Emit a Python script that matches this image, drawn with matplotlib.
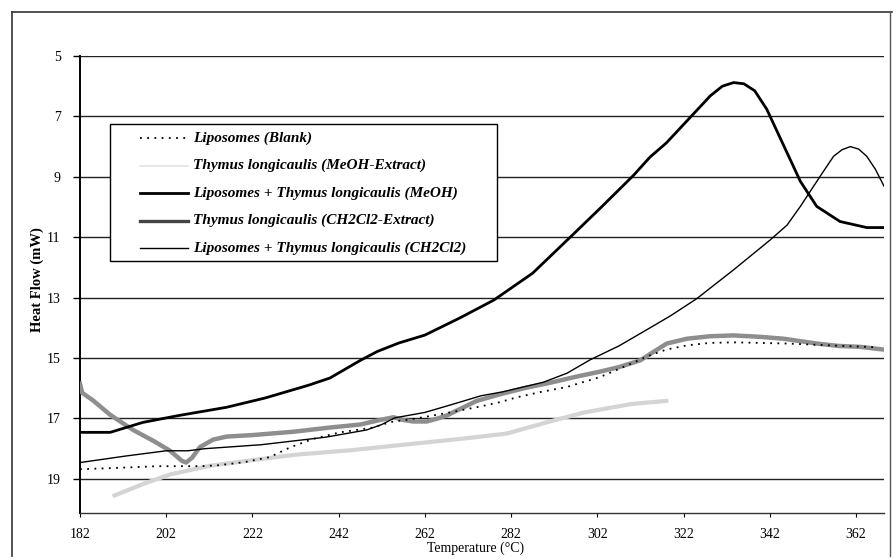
import matplotlib
matplotlib.use("Agg")
import matplotlib.pyplot as plt
from matplotlib.lines import Line2D
from matplotlib.patches import Rectangle

# ---------------- data ----------------
blank_x = [182, 190, 200, 210, 214, 220, 226, 230.7, 236, 242.3, 250, 254, 260, 267.8, 275,
           279.4, 283.3, 289, 294.9, 302.6, 308, 314.2, 318, 322.8, 328, 333.6, 340, 346, 356,
           364.5, 366]
blank_y = [18.68, 18.64, 18.58, 18.58, 18.55, 18.45, 18.28, 17.96, 17.68, 17.46, 17.3, 17.12,
           17.0, 16.8, 16.6, 16.46, 16.3, 16.12, 15.96, 15.63, 15.3, 14.91, 14.72, 14.58, 14.5,
           14.48, 14.5, 14.52, 14.58, 14.63, 14.64]

meoh_ext_x = [190, 197, 203, 212, 222, 232, 245, 255, 270, 281, 286, 291, 299, 310, 318]
meoh_ext_y = [19.55, 19.15, 18.85, 18.57, 18.38, 18.2, 18.05, 17.9, 17.68, 17.5, 17.3, 17.1,
              16.8, 16.52, 16.42]

lipo_meoh_x = [182, 189, 196.6, 205, 216, 225, 235, 240, 247, 251, 256, 262, 270, 278, 287,
               295.7, 302.6, 310.4, 314.2, 318, 323.5, 328.2, 331, 333.6, 336, 338.5, 341.3,
               346, 349.1, 352.9, 358.3, 364.5, 368.5]
lipo_meoh_y = [17.46, 17.46, 17.13, 16.9, 16.63, 16.32, 15.9, 15.66, 15.08, 14.78, 14.5, 14.24,
               13.68, 13.08, 12.19, 11.0, 10.05, 8.95, 8.35, 7.88, 7.04, 6.32, 6.0, 5.88, 5.92,
               6.15, 6.76, 8.2, 9.15, 9.98, 10.48, 10.68, 10.68]

ch2_ext_x = [182, 182.5, 185, 189, 194.3, 199, 202.9, 205.6, 206.6, 208, 209.8, 212.9, 216,
             222, 231.5, 240, 247, 251.6, 254.7, 257, 259.3, 262.4, 265, 267.1, 274, 279.4,
             285, 291, 297, 302.6, 307, 311.9, 315, 318.1, 322.8, 328, 333.6, 340, 345.2,
             352.9, 358, 363, 368.5]
ch2_ext_y = [15.85, 16.15, 16.4, 16.88, 17.38, 17.74, 18.07, 18.4, 18.46, 18.3, 17.95, 17.7,
             17.6, 17.55, 17.44, 17.3, 17.2, 17.05, 16.96, 17.05, 17.1, 17.1, 17.0, 16.9, 16.42,
             16.2, 16.0, 15.82, 15.62, 15.45, 15.3, 15.08, 14.8, 14.52, 14.36, 14.28, 14.25,
             14.3, 14.36, 14.52, 14.6, 14.63, 14.72]

lipo_ch2_x = [182, 192.8, 202, 207, 211, 224, 239, 248.5, 252, 255, 262, 268, 275, 280, 289.5,
              295, 300.3, 307, 313.5, 319, 325.1, 333.6, 342.1, 346, 349.1, 353.7, 356.8, 358.8,
              360.7, 362.6, 364.5, 366.5, 368.5]
lipo_ch2_y = [18.46, 18.24, 18.07, 18.07, 18.0, 17.87, 17.62, 17.38, 17.2, 16.98, 16.8, 16.55,
              16.25, 16.12, 15.8, 15.5, 15.06, 14.6, 14.06, 13.6, 13.03, 12.08, 11.09, 10.6,
              9.98, 8.98, 8.32, 8.1, 8.0, 8.08, 8.32, 8.75, 9.31]

x_ticks = [182, 202, 222, 242, 262, 282, 302, 322, 342, 362]
y_ticks = [5, 7, 9, 11, 13, 15, 17, 19]

labels = ["Liposomes (Blank)",
          "Thymus longicaulis (MeOH-Extract)",
          "Liposomes + Thymus longicaulis (MeOH)",
          "Thymus longicaulis (CH2Cl2-Extract)",
          "Liposomes + Thymus longicaulis (CH2Cl2)"]

# ---------------- figure ----------------
W, H = 894, 559
plt.rcParams['font.family'] = ['Liberation Serif', 'DejaVu Serif']
fig = plt.figure(figsize=(W/100, H/100), dpi=100)
ax = fig.add_axes([80/W, 1-513/H, (884-80)/W, (513-56)/H])

ax.set_xlim(182, 368.5)
ax.set_ylim(20.13, 5)

for y in y_ticks:
    ax.axhline(y, color='#222222', lw=1.0, zorder=1)

styles = [dict(color='black', lw=1.3, linestyle=(0, (1, 3))),
          dict(color='#d4d4d4', lw=3.0),
          dict(color='black', lw=2.0),
          dict(color='#8e8e8e', lw=3.2),
          dict(color='black', lw=1.0)]
series = [(blank_x, blank_y), (meoh_ext_x, meoh_ext_y), (lipo_meoh_x, lipo_meoh_y),
          (ch2_ext_x, ch2_ext_y), (lipo_ch2_x, lipo_ch2_y)]
zorders = [4, 2, 5, 3, 5]
for (xs, ys), st, z in zip(series, styles, zorders):
    ax.plot(xs, ys, zorder=z, **st)

ax.set_xticks(x_ticks)
ax.set_xticklabels([str(v) for v in x_ticks], fontsize=10)
ax.set_yticks(y_ticks)
ax.set_yticklabels([str(v) for v in y_ticks], fontsize=10)
ax.tick_params(axis='y', direction='out', length=5, width=1, pad=9)
ax.tick_params(axis='x', direction='out', length=3, width=0.8, pad=8)

for s in ['top', 'right']:
    ax.spines[s].set_visible(False)
ax.spines['left'].set_linewidth(1.4)
ax.spines['bottom'].set_linewidth(1.0)
ax.spines['bottom'].set_color('#333333')

fig.text(37/W, 1-280/H, "Heat Flow (mW)", rotation=90, ha='center', va='center',
         fontsize=10.5, fontweight='bold')
fig.text(476/W, 1-548/H, "Temperature (°C)", ha='center', va='center', fontsize=10)

# ---------------- legend (drawn in figure pixels) ----------------
ft = fig.transFigure
fig.add_artist(Rectangle((110/W, 1-261/H), (497-110)/W, (261-124)/H, transform=ft,
                         facecolor='white', edgecolor='black', lw=1.0, zorder=10))
leg_styles = [dict(color='black', lw=1.3, linestyle=(0, (1, 3))),
              dict(color='#e2e2e2', lw=1.2),
              dict(color='black', lw=2.0),
              dict(color='#444444', lw=2.4),
              dict(color='black', lw=1.0)]
row_y = [138, 165.5, 193, 220.5, 248]
for ry, lab, st in zip(row_y, labels, leg_styles):
    fig.add_artist(Line2D([140/W, 188/W], [1-ry/H, 1-ry/H], transform=ft, zorder=11, **st))
    fig.text(193/W, 1-ry/H, lab, ha='left', va='center', fontsize=11,
             fontweight='bold', fontstyle='italic', zorder=12)

# outer chart frame
fig.add_artist(Line2D([12/W, 12/W], [0.005, 1-12/H], transform=ft, color='#333333', lw=1.2))
fig.add_artist(Line2D([12/W, 0.998], [1-12/H, 1-12/H], transform=ft, color='#333333', lw=1.2))
fig.add_artist(Line2D([0.996, 0.996], [0.005, 1-12/H], transform=ft, color='#555555', lw=1.0))

fig.savefig("out.png", dpi=100)
